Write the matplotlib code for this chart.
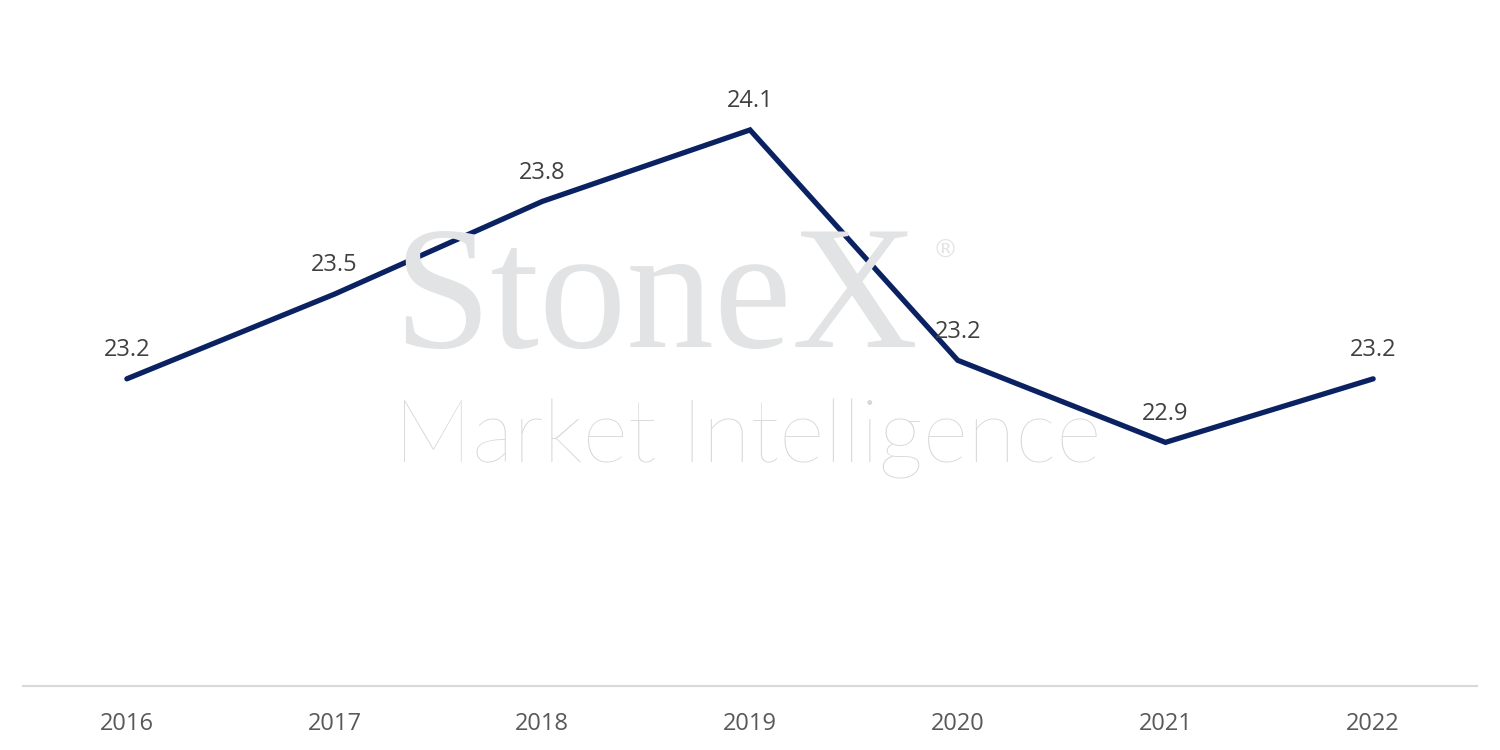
import matplotlib
matplotlib.use('Agg')

import matplotlib.pyplot as plt

years = ['2016', '2017', '2018', '2019', '2020', '2021', '2022']
values = [23.16, 23.48, 23.83, 24.10, 23.23, 22.92, 23.16]
labels = ['23.2', '23.5', '23.8', '24.1', '23.2', '22.9', '23.2']

fig = plt.figure(figsize=(15, 7.5), dpi=100)
ax = fig.add_axes([23 / 1500, 1 - 686 / 750, 1454 / 1500, (686 - 24) / 750])

# watermark
fig.text(0.262, 0.594, 'StoneX', family='Liberation Serif',
         fontsize=126, color='#e2e3e4', ha='left', va='center', zorder=0)
fig.text(0.622, 0.665, '\u00ae', family='DejaVu Sans', fontsize=18,
         color='#e2e3e4', ha='left', va='center', zorder=0)
fig.text(0.263, 0.415, 'Market Intelligence', family='Lato', weight='light',
         fontsize=63, color='#d6d7d9', ha='left', va='center', zorder=0)

x = range(len(years))
ax.plot(x, values, color='#0b2262', linewidth=3.8, solid_capstyle='round',
        solid_joinstyle='miter', zorder=3)

for i, v in enumerate(values):
    ax.annotate(labels[i], (i, v), xytext=(0, 12), textcoords='offset points',
                ha='center', va='bottom', fontsize=17, color='#404040',
                family='Open Sans', zorder=4)

ax.set_xlim(-0.5, len(years) - 0.5)
ax.set_ylim(22, 24.5)
ax.set_xticks(list(x))
ax.set_xticklabels(years, fontsize=17, color='#595959', family='Open Sans')
ax.tick_params(axis='x', length=0, pad=19)
ax.set_yticks([])
ax.patch.set_alpha(0)
for s in ['top', 'left', 'right']:
    ax.spines[s].set_visible(False)
ax.spines['bottom'].set_color('#d9d9d9')
ax.spines['bottom'].set_linewidth(1.5)

fig.savefig('out.png', dpi=100)
